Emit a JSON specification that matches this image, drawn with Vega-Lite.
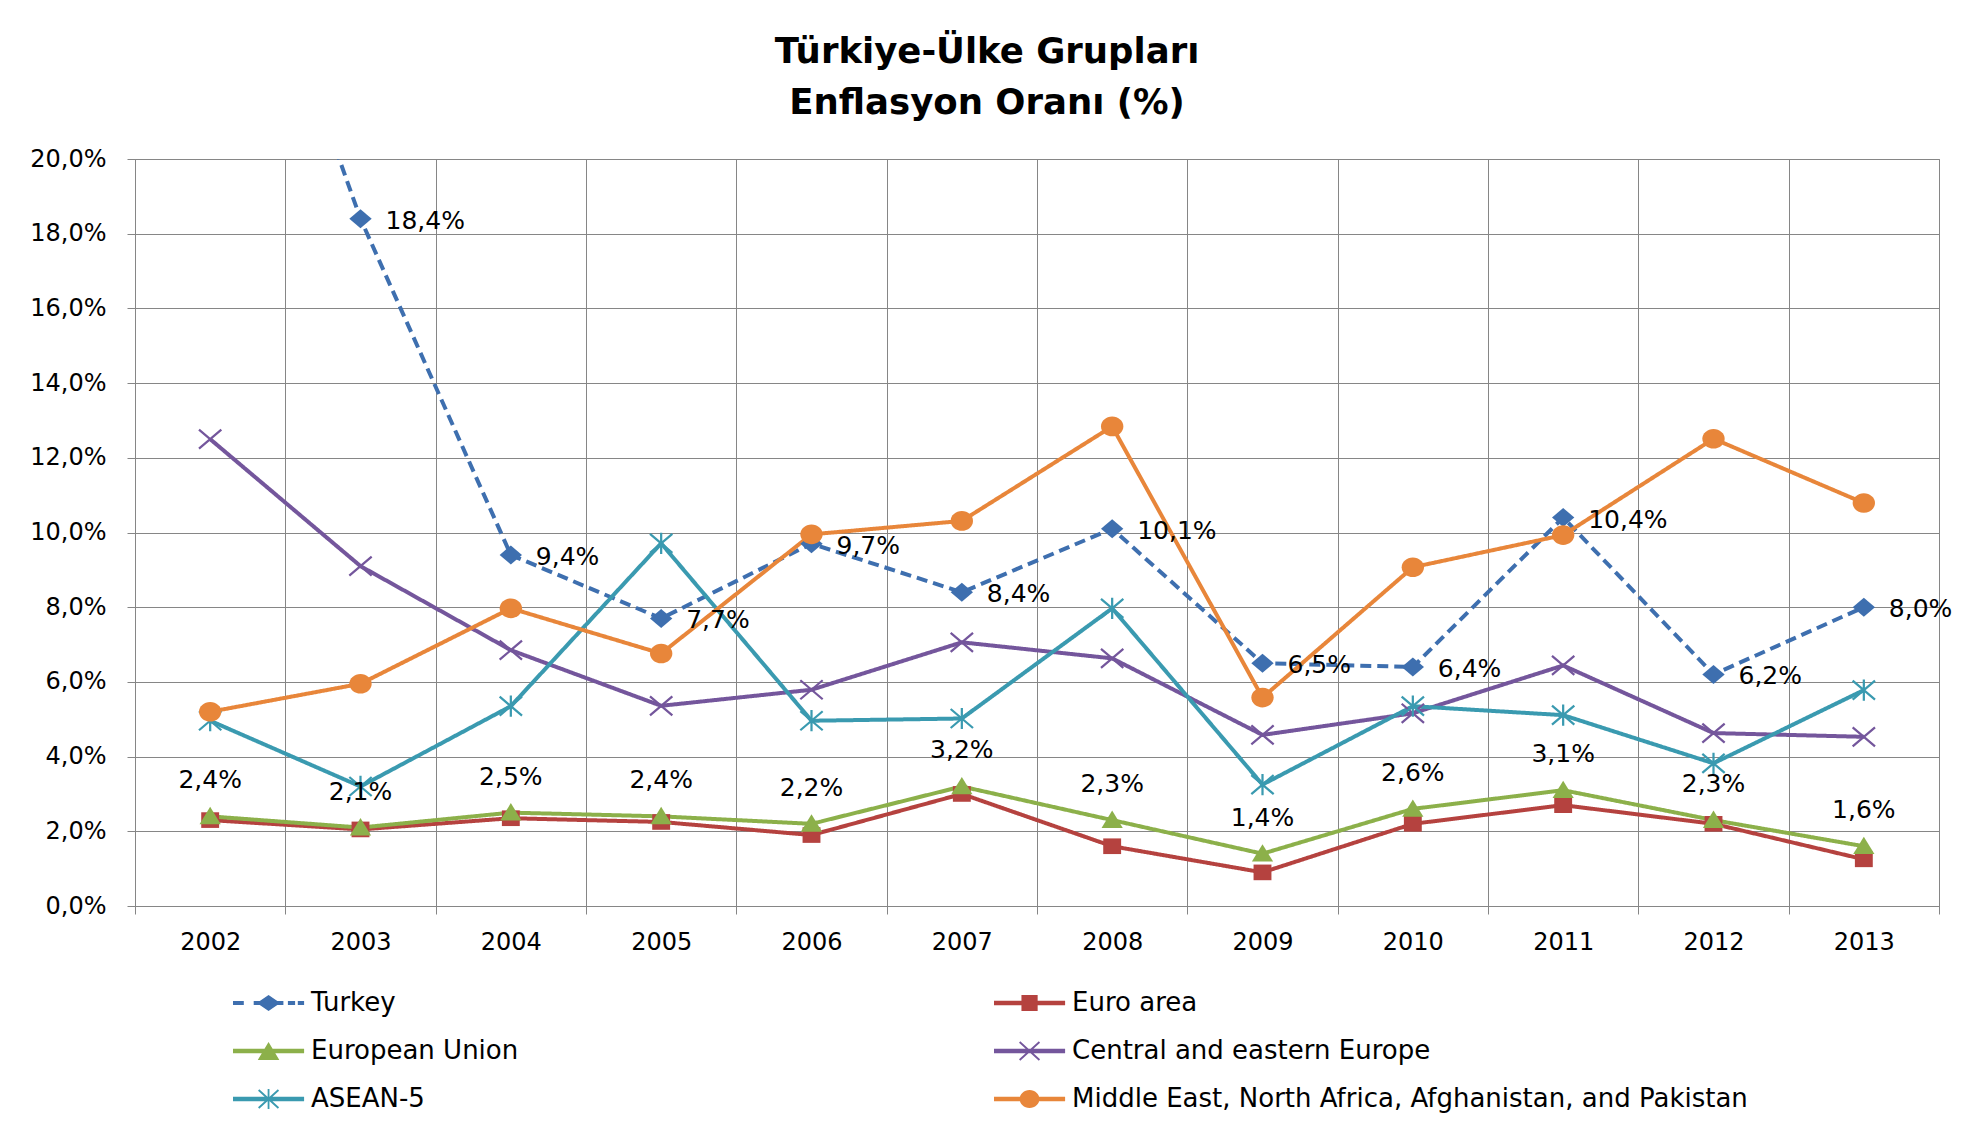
{
  "$schema": "https://vega.github.io/schema/vega-lite/v6.json",
  "autosize": "none",
  "width": 1804,
  "height": 747,
  "padding": {"left": 135, "top": 159, "right": 34, "bottom": 224},
  "background": "#ffffff",
  "config": {
    "locale": {"number": {"decimal": ",", "thousands": ".", "grouping": [3], "currency": ["", ""]}},
    "font": "DejaVu Sans",
    "view": {"stroke": "#868686", "strokeWidth": 1},
    "axis": {
      "labelFont": "DejaVu Sans", "labelFontSize": 24, "labelColor": "#000000",
      "gridColor": "#868686", "gridWidth": 1, "gridOpacity": 1,
      "tickColor": "#868686", "tickSize": 8, "tickWidth": 1,
      "domainColor": "#868686", "domainWidth": 1, "title": null
    }
  },
  "title": {
    "text": ["Türkiye-Ülke Grupları", "Enflasyon Oranı (%)"],
    "font": "DejaVu Sans", "fontSize": 35.5, "fontWeight": "bold", "color": "#000000",
    "lineHeight": 51, "anchor": "middle", "frame": "bounds", "offset": 26, "dx": -4
  },
  "data": {"values": [
    {"year": 2002, "series": "Turkey", "value": 0.297},
    {"year": 2003, "series": "Turkey", "value": 0.184},
    {"year": 2004, "series": "Turkey", "value": 0.094},
    {"year": 2005, "series": "Turkey", "value": 0.077},
    {"year": 2006, "series": "Turkey", "value": 0.097},
    {"year": 2007, "series": "Turkey", "value": 0.084},
    {"year": 2008, "series": "Turkey", "value": 0.101},
    {"year": 2009, "series": "Turkey", "value": 0.065},
    {"year": 2010, "series": "Turkey", "value": 0.064},
    {"year": 2011, "series": "Turkey", "value": 0.104},
    {"year": 2012, "series": "Turkey", "value": 0.062},
    {"year": 2013, "series": "Turkey", "value": 0.080},
    {"year": 2002, "series": "Euro area", "value": 0.023},
    {"year": 2003, "series": "Euro area", "value": 0.0205},
    {"year": 2004, "series": "Euro area", "value": 0.0235},
    {"year": 2005, "series": "Euro area", "value": 0.0225},
    {"year": 2006, "series": "Euro area", "value": 0.019},
    {"year": 2007, "series": "Euro area", "value": 0.030},
    {"year": 2008, "series": "Euro area", "value": 0.016},
    {"year": 2009, "series": "Euro area", "value": 0.009},
    {"year": 2010, "series": "Euro area", "value": 0.022},
    {"year": 2011, "series": "Euro area", "value": 0.027},
    {"year": 2012, "series": "Euro area", "value": 0.022},
    {"year": 2013, "series": "Euro area", "value": 0.0125},
    {"year": 2002, "series": "European Union", "value": 0.024},
    {"year": 2003, "series": "European Union", "value": 0.021},
    {"year": 2004, "series": "European Union", "value": 0.025},
    {"year": 2005, "series": "European Union", "value": 0.024},
    {"year": 2006, "series": "European Union", "value": 0.022},
    {"year": 2007, "series": "European Union", "value": 0.032},
    {"year": 2008, "series": "European Union", "value": 0.023},
    {"year": 2009, "series": "European Union", "value": 0.014},
    {"year": 2010, "series": "European Union", "value": 0.026},
    {"year": 2011, "series": "European Union", "value": 0.031},
    {"year": 2012, "series": "European Union", "value": 0.023},
    {"year": 2013, "series": "European Union", "value": 0.016},
    {"year": 2002, "series": "Central and eastern Europe", "value": 0.125},
    {"year": 2003, "series": "Central and eastern Europe", "value": 0.091},
    {"year": 2004, "series": "Central and eastern Europe", "value": 0.0685},
    {"year": 2005, "series": "Central and eastern Europe", "value": 0.0536},
    {"year": 2006, "series": "Central and eastern Europe", "value": 0.0579},
    {"year": 2007, "series": "Central and eastern Europe", "value": 0.0706},
    {"year": 2008, "series": "Central and eastern Europe", "value": 0.0663},
    {"year": 2009, "series": "Central and eastern Europe", "value": 0.0458},
    {"year": 2010, "series": "Central and eastern Europe", "value": 0.0516},
    {"year": 2011, "series": "Central and eastern Europe", "value": 0.0644},
    {"year": 2012, "series": "Central and eastern Europe", "value": 0.0463},
    {"year": 2013, "series": "Central and eastern Europe", "value": 0.0453},
    {"year": 2002, "series": "ASEAN-5", "value": 0.0496},
    {"year": 2003, "series": "ASEAN-5", "value": 0.032},
    {"year": 2004, "series": "ASEAN-5", "value": 0.0535},
    {"year": 2005, "series": "ASEAN-5", "value": 0.0971},
    {"year": 2006, "series": "ASEAN-5", "value": 0.0496},
    {"year": 2007, "series": "ASEAN-5", "value": 0.0502},
    {"year": 2008, "series": "ASEAN-5", "value": 0.0797},
    {"year": 2009, "series": "ASEAN-5", "value": 0.0325},
    {"year": 2010, "series": "ASEAN-5", "value": 0.0535},
    {"year": 2011, "series": "ASEAN-5", "value": 0.0511},
    {"year": 2012, "series": "ASEAN-5", "value": 0.0382},
    {"year": 2013, "series": "ASEAN-5", "value": 0.0578},
    {"year": 2002, "series": "Middle East, North Africa, Afghanistan, and Pakistan", "value": 0.052},
    {"year": 2003, "series": "Middle East, North Africa, Afghanistan, and Pakistan", "value": 0.0595},
    {"year": 2004, "series": "Middle East, North Africa, Afghanistan, and Pakistan", "value": 0.0797},
    {"year": 2005, "series": "Middle East, North Africa, Afghanistan, and Pakistan", "value": 0.0676},
    {"year": 2006, "series": "Middle East, North Africa, Afghanistan, and Pakistan", "value": 0.0995},
    {"year": 2007, "series": "Middle East, North Africa, Afghanistan, and Pakistan", "value": 0.1031},
    {"year": 2008, "series": "Middle East, North Africa, Afghanistan, and Pakistan", "value": 0.1284},
    {"year": 2009, "series": "Middle East, North Africa, Afghanistan, and Pakistan", "value": 0.0558},
    {"year": 2010, "series": "Middle East, North Africa, Afghanistan, and Pakistan", "value": 0.0907},
    {"year": 2011, "series": "Middle East, North Africa, Afghanistan, and Pakistan", "value": 0.0993},
    {"year": 2012, "series": "Middle East, North Africa, Afghanistan, and Pakistan", "value": 0.1251},
    {"year": 2013, "series": "Middle East, North Africa, Afghanistan, and Pakistan", "value": 0.1079}
  ]},
  "encoding": {
    "x": {
      "field": "year", "type": "ordinal",
      "scale": {"type": "band", "paddingInner": 0, "paddingOuter": 0},
      "axis": {"tickBand": "extent", "labelAngle": 0, "labelPadding": 16, "title": null, "grid": true}
    },
    "y": {
      "field": "value", "type": "quantitative",
      "scale": {"domain": [0, 0.2], "nice": false, "zero": true},
      "axis": {"values": [0, 0.02, 0.04, 0.06, 0.08, 0.1, 0.12, 0.14, 0.16, 0.18, 0.2], "format": ".1%", "labelPadding": 21, "title": null, "grid": true}
    }
  },
  "layer": [
    {
      "mark": {"type": "line", "strokeWidth": 4, "clip": true},
      "encoding": {
        "color": {"field": "series", "type": "nominal",
          "scale": {"domain": ["Turkey", "Euro area", "European Union", "Central and eastern Europe", "ASEAN-5", "Middle East, North Africa, Afghanistan, and Pakistan"],
                    "range": ["#3E6FAF", "#B5423F", "#8CB04A", "#74569C", "#3A9AB0", "#E8863A"]},
          "legend": null},
        "strokeDash": {"field": "series", "type": "nominal",
          "scale": {"domain": ["Turkey", "Euro area", "European Union", "Central and eastern Europe", "ASEAN-5", "Middle East, North Africa, Afghanistan, and Pakistan"],
                    "range": [[11, 6], [1, 0], [1, 0], [1, 0], [1, 0], [1, 0]]},
          "legend": null}
      }
    },
    {
      "mark": {"type": "point", "filled": true, "opacity": 1, "size": 500, "clip": true, "strokeWidth": 0},
      "encoding": {
        "color": {"field": "series", "type": "nominal",
          "scale": {"domain": ["Turkey", "Euro area", "European Union", "Central and eastern Europe", "ASEAN-5", "Middle East, North Africa, Afghanistan, and Pakistan"],
                    "range": ["#3E6FAF", "#B5423F", "#8CB04A", "#74569C", "#3A9AB0", "#E8863A"]},
          "legend": null},
        "shape": {"field": "series", "type": "nominal",
          "scale": {"domain": ["Turkey", "Euro area", "European Union", "Central and eastern Europe", "ASEAN-5", "Middle East, North Africa, Afghanistan, and Pakistan"],
                    "range": [
                      "M0,-0.85L-1,0L0,0.85L1,0Z",
                      "M-0.8,-0.7L-0.8,0.7L0.8,0.7L0.8,-0.7Z",
                      "M0,-0.85L-0.95,0.7L0.95,0.7Z",
                      "M-1.065,-0.774L0.935,0.926L1.065,0.774L-0.935,-0.926ZM1.065,-0.774L0.935,-0.926L-1.065,0.774L-0.935,0.926Z",
                      "M-1.065,-0.774L0.935,0.926L1.065,0.774L-0.935,-0.926ZM1.065,-0.774L0.935,-0.926L-1.065,0.774L-0.935,0.926ZM-0.1,-0.95L-0.1,0.95L0.1,0.95L0.1,-0.95Z",
                      "M-1,0A1,0.88 0 1,0 1,0A1,0.88 0 1,0 -1,0Z"
                    ]},
          "legend": null}
      }
    },
    {
      "transform": [{"filter": "false"}],
      "mark": {"type": "point", "filled": true, "opacity": 1, "size": 1296, "strokeWidth": 0},
      "encoding": {
        "color": {"field": "series", "type": "nominal",
          "scale": {"domain": ["Turkey", "Euro area", "European Union", "Central and eastern Europe", "ASEAN-5", "Middle East, North Africa, Afghanistan, and Pakistan"],
                    "range": ["#3E6FAF", "#B5423F", "#8CB04A", "#74569C", "#3A9AB0", "#E8863A"]},
          "legend": {"title": null, "orient": "none", "direction": "horizontal", "legendX": 98, "legendY": 826, "columns": 2, "columnPadding": 475, "rowPadding": 17, "labelOffset": 42, "symbolSize": 1296, "symbolStrokeWidth": 0, "symbolOpacity": 1, "labelFont": "DejaVu Sans", "labelFontSize": 26, "labelColor": "#000000", "padding": 0, "labelLimit": 1000}},
        "shape": {"field": "series", "type": "nominal",
          "scale": {"domain": ["Turkey", "Euro area", "European Union", "Central and eastern Europe", "ASEAN-5", "Middle East, North Africa, Afghanistan, and Pakistan"],
                    "range": [
                      "M-1,-0.11L-1,0.11L-0.4,0.11L-0.4,-0.11ZM0.15,-0.11L0.15,0.11L1.8,0.11L1.8,-0.11ZM2.05,-0.11L2.05,0.11L2.45,0.11L2.45,-0.11ZM2.6,-0.11L2.6,0.11L2.95,0.11L2.95,-0.11ZM0.975,-0.45L0.325,0L0.975,0.45L1.625,0Z",
                      "M-1,-0.12L-1,0.12L2.95,0.12L2.95,-0.12ZM0.525,-0.45L0.525,0.45L1.425,0.45L1.425,-0.45Z",
                      "M-1,-0.12L-1,0.12L2.95,0.12L2.95,-0.12ZM0.975,-0.5L0.375,0.5L1.575,0.5Z",
                      "M-1,-0.12L-1,0.12L2.95,0.12L2.95,-0.12ZM0.391,-0.463L1.491,0.537L1.559,0.463L0.459,-0.537ZM1.559,-0.463L1.491,-0.537L0.391,0.463L0.459,0.537Z",
                      "M-1,-0.12L-1,0.12L2.95,0.12L2.95,-0.12ZM0.391,-0.463L1.491,0.537L1.559,0.463L0.459,-0.537ZM1.559,-0.463L1.491,-0.537L0.391,0.463L0.459,0.537ZM0.925,-0.55L0.925,0.55L1.025,0.55L1.025,-0.55Z",
                      "M-1,-0.12L-1,0.12L2.95,0.12L2.95,-0.12ZM0.425,0A0.55,0.5 0 1,0 1.525,0A0.55,0.5 0 1,0 0.425,0Z"
                    ]},
          "legend": {"title": null, "orient": "none", "direction": "horizontal", "legendX": 98, "legendY": 826, "columns": 2, "columnPadding": 475, "rowPadding": 17, "labelOffset": 42, "symbolSize": 1296, "symbolStrokeWidth": 0, "symbolOpacity": 1, "labelFont": "DejaVu Sans", "labelFontSize": 26, "labelColor": "#000000", "padding": 0, "labelLimit": 1000}}
      }
    },
    {
      "transform": [{"filter": "datum.series == 'Turkey' && datum.year > 2002"}],
      "mark": {"type": "text", "align": "left", "baseline": "middle", "dx": 25, "dy": 2, "font": "DejaVu Sans", "fontSize": 25, "color": "#000000"},
      "encoding": {"text": {"field": "value", "type": "quantitative", "format": ".1%"}}
    },
    {
      "transform": [{"filter": "datum.series == 'European Union'"}],
      "mark": {"type": "text", "align": "center", "baseline": "middle", "dy": -36, "font": "DejaVu Sans", "fontSize": 25, "color": "#000000"},
      "encoding": {"text": {"field": "value", "type": "quantitative", "format": ".1%"}}
    }
  ],
  "resolve": {
    "scale": {"color": "independent", "shape": "independent", "strokeDash": "independent"},
    "legend": {"color": "independent", "shape": "independent"}
  }
}
